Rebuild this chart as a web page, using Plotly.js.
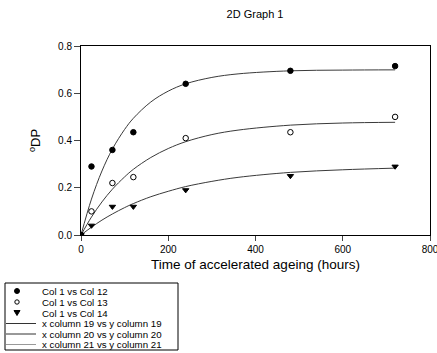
<!DOCTYPE html>
<html><head><meta charset="utf-8">
<script src="https://cdn.plot.ly/plotly-3.0.1.min.js"></script>
<style>html,body{margin:0;padding:0;background:#fff;}#chart{width:437px;height:353px;}</style>
</head><body><div id="chart"></div>
<script>
// measured points
const hours = [0, 24, 72, 120, 240, 480, 720];
const col12 = [0, 0.29, 0.36, 0.435, 0.64, 0.695, 0.715];
const col13 = [0, 0.10, 0.22, 0.245, 0.41, 0.435, 0.50];
const col14 = [0, 0.04, 0.12, 0.12, 0.19, 0.25, 0.29];
// fitted curves
const curveX = [0, 24, 48, 72, 100, 120, 160, 200, 240, 300, 360, 480, 600, 720];
const curve19 = [0, 0.152, 0.271, 0.364, 0.447, 0.494, 0.563, 0.609, 0.640, 0.667, 0.682, 0.695, 0.698, 0.699];
const curve20 = [0, 0.076, 0.140, 0.194, 0.246, 0.278, 0.328, 0.366, 0.395, 0.425, 0.444, 0.465, 0.474, 0.477];
const curve21 = [0, 0.033, 0.063, 0.089, 0.116, 0.133, 0.162, 0.185, 0.205, 0.227, 0.244, 0.265, 0.276, 0.283];
const names = ['Col 1 vs Col 12','Col 1 vs Col 13','Col 1 vs Col 14',
  'x column 19 vs y column 19','x column 20 vs y column 20','x column 21 vs y column 21'];
const xTicks = [0, 200, 400, 600, 800];
const yTicks = [0, 0.2, 0.4, 0.6, 0.8];
const yTickText = ['0.0', '0.2', '0.4', '0.6', '0.8'];

const L = 81, R = 430, T = 46, B = 235;
const px = x => (x - L) / (R - L);
const py = y => (B - y) / (B - T);

const mk = (y, sym, name) => ({x: hours, y: y, mode: 'markers', type: 'scatter', name: name,
  marker: {symbol: sym, size: 5.5, color: '#000', line: {color: '#000', width: 1}}, showlegend: false});
const ln = (y, col, name) => ({x: curveX, y: y, mode: 'lines', type: 'scatter', name: name,
  line: {color: col, width: 1, shape: 'spline'}, showlegend: false});

const data = [
  ln(curve19, '#3a3a3a', names[3]), ln(curve20, '#3a3a3a', names[4]), ln(curve21, '#3a3a3a', names[5]),
  mk(col12, 'circle', names[0]), mk(col13, 'circle-open', names[1]), mk(col14, 'triangle-down', names[2])
];

// manual legend (compact, like the reference)
const shapes = [];
const annotations = [];
shapes.push({type: 'rect', xref: 'paper', yref: 'paper', x0: px(5), x1: px(178), y0: py(283), y1: py(350),
  line: {color: '#000', width: 1}, fillcolor: 'rgba(0,0,0,0)'});
const rowY = [291, 302, 313, 323.5, 334, 344.5];
const mx = px(17);
shapes.push({type: 'circle', xref: 'paper', yref: 'paper', xsizemode: 'pixel', ysizemode: 'pixel',
  xanchor: mx, yanchor: py(rowY[0]), x0: -2.5, x1: 2.5, y0: -2.5, y1: 2.5, fillcolor: '#000', line: {color: '#000', width: 1}});
shapes.push({type: 'circle', xref: 'paper', yref: 'paper', xsizemode: 'pixel', ysizemode: 'pixel',
  xanchor: mx, yanchor: py(rowY[1]), x0: -2.2, x1: 2.2, y0: -2.2, y1: 2.2, fillcolor: '#fff', line: {color: '#000', width: 1}});
shapes.push({type: 'path', xref: 'paper', yref: 'paper',
  path: `M ${px(14)} ${py(rowY[2]-2.5)} L ${px(20)} ${py(rowY[2]-2.5)} L ${px(17)} ${py(rowY[2]+2.5)} Z`,
  fillcolor: '#000', line: {color: '#000', width: 1}});
const lineCols = ['#333', '#333', '#999'];
for (let i = 0; i < 3; i++) {
  shapes.push({type: 'line', xref: 'paper', yref: 'paper', x0: px(6), x1: px(36), y0: py(rowY[i+3]), y1: py(rowY[i+3]),
    line: {color: lineCols[i], width: 1}});
}
for (let i = 0; i < 6; i++) {
  annotations.push({xref: 'paper', yref: 'paper', x: px(40), y: py(rowY[i]), xanchor: 'left', yanchor: 'middle',
    text: names[i], showarrow: false, font: {size: 9.7, color: '#000'}});
}

const layout = {
  width: 437, height: 353,
  margin: {l: L, r: 437 - R, t: T, b: 353 - B},
  paper_bgcolor: '#fff', plot_bgcolor: '#fff',
  font: {family: 'Liberation Sans, Arial, sans-serif', color: '#000', size: 10},
  title: {text: '2D Graph 1', x: px(255), xref: 'paper', xanchor: 'center', y: 1 - 14 / 353, yanchor: 'middle', font: {size: 11}},
  xaxis: {range: [0, 800], tickvals: xTicks, ticks: 'outside', ticklen: 5, tickwidth: 1, automargin: false,
    ticklabeloverflow: 'allow',
    showline: true, linecolor: '#000', linewidth: 1, mirror: true, showgrid: false, zeroline: false,
    tickfont: {size: 10},
    title: {text: 'Time of accelerated ageing (hours)', font: {size: 13.5}, standoff: 5}},
  yaxis: {range: [0, 0.8], tickvals: yTicks, ticktext: yTickText, automargin: false,
    ticks: 'outside', ticklen: 6, tickwidth: 1,
    showline: true, linecolor: '#000', linewidth: 1, mirror: true, showgrid: false, zeroline: false,
    tickfont: {size: 10},
    title: {text: '<sup>o</sup>DP', font: {size: 13}, standoff: 14}},
  showlegend: false,
  shapes: shapes,
  annotations: annotations
};
Plotly.newPlot('chart', data, layout, {displayModeBar: false, staticPlot: true});
</script></body></html>
